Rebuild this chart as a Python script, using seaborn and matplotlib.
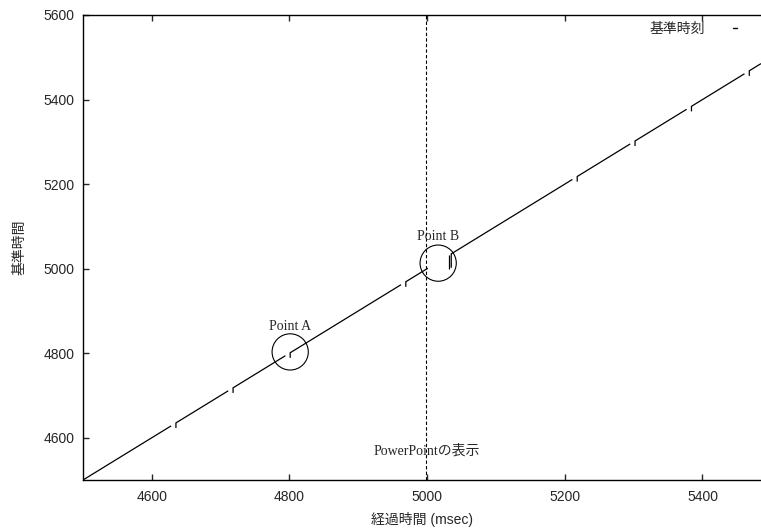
import matplotlib
matplotlib.use('Agg')
import matplotlib.pyplot as plt
from matplotlib.lines import Line2D
import seaborn as sns
import pandas as pd

sns.set_style('ticks')
plt.rcParams['font.family'] = ['Liberation Sans', 'Noto Sans CJK JP']
plt.rcParams['font.size'] = 10

# reference time line, drawn as broken segments (y == x)
seg_start = [4500, 4635, 4718, 4801, 4969, 5032, 5035, 5218, 5302, 5384, 5468]
seg_end = [4628, 4711, 4794, 4962, 5001, 5032, 5211, 5295, 5377, 5461, 5485]
seg_drop = [0, 12, 12, 12, 12, 32, 33, 12, 12, 12, 12]

# marked points
point_names = ['Point A', 'Point B']
point_x = [4801, 5016]
point_y = [4803, 5013]
label_y = [4862, 5075]

powerpoint_x = 4998

rows = []
for i, (s, e, d) in enumerate(zip(seg_start, seg_end, seg_drop)):
    rows.append((i, 0, s, s - d))
    rows.append((i, 1, s, s))
    rows.append((i, 2, e, e))
df = pd.DataFrame(rows, columns=['seg', 'order', 'elapsed', 'ref'])

fig = plt.figure(figsize=(7.61, 5.30), dpi=100)
ax = fig.add_axes([83 / 761, 50 / 530, 678 / 761, 465 / 530])

sns.lineplot(data=df, x='elapsed', y='ref', units='seg', estimator=None, sort=False,
             color='black', linewidth=0.9, ax=ax, legend=False,
             solid_capstyle='butt', solid_joinstyle='miter')

ax.axvline(powerpoint_x, color='black', linewidth=0.8, linestyle=(0, (3, 2)))

sns.scatterplot(x=point_x, y=point_y, s=680, facecolor='none', edgecolor='black',
                linewidth=0.8, ax=ax, legend=False)
for name, px, ly in zip(point_names, point_x, label_y):
    ax.text(px, ly, name, ha='center', va='center', fontsize=10,
            family=['Liberation Serif', 'Noto Sans CJK JP'])
ax.text(5000, 4569, 'PowerPointの表示', ha='center', va='center', fontsize=10,
        family=['Liberation Serif', 'Noto Sans CJK JP'])

ax.set_xlim(4500, 5485)
ax.set_ylim(4500, 5600)
ax.set_xticks([4600, 4800, 5000, 5200, 5400])
ax.set_yticks([4600, 4800, 5000, 5200, 5400, 5600])
ax.tick_params(direction='in', top=True, right=False, length=4, width=1, labelsize=10)
ax.tick_params(axis='x', pad=7)
ax.tick_params(axis='y', pad=6)
for side in ['left', 'bottom', 'top']:
    ax.spines[side].set_linewidth(1.0)
    ax.spines[side].set_color('black')
ax.spines['right'].set_visible(False)

ax.set_xlabel('経過時間 (msec)', fontsize=10, labelpad=6)
ax.set_ylabel('基準時間', fontsize=10, labelpad=12)

handle = Line2D([0], [0], color='black', linewidth=1.0)
ax.legend(handles=[handle], labels=['基準時刻'], markerfirst=False, handlelength=0.3,
          handletextpad=2.0, frameon=False, loc='upper right', borderpad=0,
          borderaxespad=0, bbox_to_anchor=(0.9646, 0.985), fontsize=10)

fig.savefig('out.png', dpi=100)
